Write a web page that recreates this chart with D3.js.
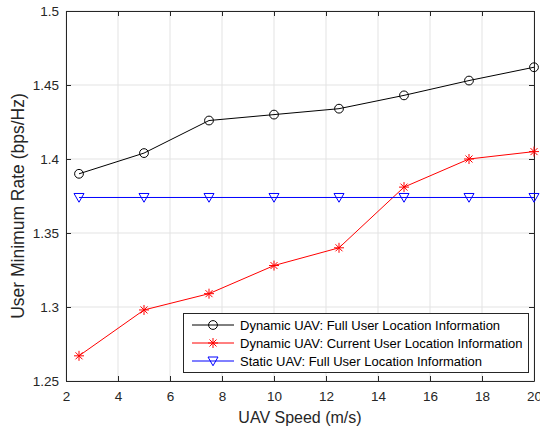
<!DOCTYPE html>
<html><head><meta charset="utf-8">
<script src="https://cdn.jsdelivr.net/npm/d3@7"></script>
<style>body{margin:0;background:#fff;}svg{display:block;font-family:"Liberation Sans",Arial,sans-serif;}</style>
</head><body>
<script>
const speeds = [2.5, 5, 7.5, 10, 12.5, 15, 17.5, 20];
const dynFull = [1.390, 1.404, 1.426, 1.430, 1.434, 1.443, 1.453, 1.462];
const dynCurrent = [1.267, 1.298, 1.309, 1.328, 1.340, 1.381, 1.400, 1.405];
const staticFull = [1.374, 1.374, 1.374, 1.374, 1.374, 1.374, 1.374, 1.374];
const seriesNames = ["Dynamic UAV: Full User Location Information", "Dynamic UAV: Current User Location Information", "Static UAV: Full User Location Information"];
const xTicks = [2, 4, 6, 8, 10, 12, 14, 16, 18, 20];
const yTicks = [1.25, 1.3, 1.35, 1.4, 1.45, 1.5];

const W = 540, H = 427;
const m = {l: 66, r: 6, t: 11, b: 46};
const svg = d3.select("body").append("svg").attr("width", W).attr("height", H);
const x = d3.scaleLinear().domain([2, 20]).range([m.l, W - m.r]);
const y = d3.scaleLinear().domain([1.25, 1.5]).range([H - m.b, m.t]);
const axisCol = "#262626";

// grid
svg.append("g").selectAll("line").data(xTicks).join("line")
  .attr("x1", d => x(d)).attr("x2", d => x(d)).attr("y1", y(1.25)).attr("y2", y(1.5))
  .attr("stroke", "#e3e3e3").attr("stroke-width", 1);
svg.append("g").selectAll("line").data(yTicks).join("line")
  .attr("y1", d => y(d)).attr("y2", d => y(d)).attr("x1", x(2)).attr("x2", x(20))
  .attr("stroke", "#e3e3e3").attr("stroke-width", 1);

// axes
const fmtY = d => String(+d.toFixed(2));
const ax = svg.append("g").attr("transform", `translate(0,${y(1.25)})`)
  .call(d3.axisBottom(x).tickValues(xTicks).tickSizeInner(-5).tickSizeOuter(0).tickPadding(10));
const ay = svg.append("g").attr("transform", `translate(${x(2)},0)`)
  .call(d3.axisLeft(y).tickValues(yTicks).tickFormat(fmtY).tickSizeInner(-5).tickSizeOuter(0).tickPadding(7));
const axTop = svg.append("g").attr("transform", `translate(0,${y(1.5)})`)
  .call(d3.axisTop(x).tickValues(xTicks).tickSizeInner(-5).tickSizeOuter(0).tickFormat(""));
const ayR = svg.append("g").attr("transform", `translate(${x(20)},0)`)
  .call(d3.axisRight(y).tickValues(yTicks).tickSizeInner(-5).tickSizeOuter(0).tickFormat(""));
[ax, ay, axTop, ayR].forEach(g => {
  g.selectAll("path.domain").attr("stroke", axisCol).attr("stroke-width", 1);
  g.selectAll(".tick line").attr("stroke", axisCol);
  g.selectAll("text").attr("fill", axisCol).style("font-size", "13.5px").style("font-family", '"Liberation Sans",Arial,sans-serif');
});

// labels
svg.append("text").attr("x", 300).attr("y", 423).attr("text-anchor", "middle")
  .attr("fill", axisCol).style("font-size", "16px").text("UAV Speed (m/s)");
svg.append("text").attr("transform", `translate(24,206) rotate(-90)`).attr("text-anchor", "middle")
  .attr("fill", axisCol).style("font-size", "17.5px").text("User Minimum Rate (bps/Hz)");

const line = d3.line().x(d => x(d[0])).y(d => y(d[1]));
const series = [
  {vals: dynFull, color: "#000000", marker: "circle"},
  {vals: dynCurrent, color: "#ff0000", marker: "star"},
  {vals: staticFull, color: "#0000ff", marker: "tri"}
];
function drawMarker(g, type, cx, cy, color) {
  if (type === "circle") {
    g.append("circle").attr("cx", cx).attr("cy", cy).attr("r", 4.4).attr("fill", "none").attr("stroke", color).attr("stroke-width", 1);
  } else if (type === "star") {
    const s = 5;
    const p = `M${cx - s},${cy}L${cx + s},${cy}M${cx},${cy - s}L${cx},${cy + s}M${cx - s * 0.7},${cy - s * 0.7}L${cx + s * 0.7},${cy + s * 0.7}M${cx - s * 0.7},${cy + s * 0.7}L${cx + s * 0.7},${cy - s * 0.7}`;
    g.append("path").attr("d", p).attr("stroke", color).attr("stroke-width", 1).attr("fill", "none");
  } else {
    const s = 5;
    g.append("path").attr("d", `M${cx - s},${cy - s * 0.8}L${cx + s},${cy - s * 0.8}L${cx},${cy + s * 0.95}Z`)
      .attr("fill", "none").attr("stroke", color).attr("stroke-width", 1);
  }
}
series.forEach(s => {
  const data = speeds.map((v, i) => [v, s.vals[i]]);
  svg.append("path").datum(data).attr("d", line).attr("fill", "none").attr("stroke", s.color).attr("stroke-width", 1);
  const g = svg.append("g");
  data.forEach(d => drawMarker(g, s.marker, x(d[0]), y(d[1]), s.color));
});

// legend
const lg = svg.append("g");
lg.append("rect").attr("x", 183.5).attr("y", 313.5).attr("width", 345).attr("height", 59)
  .attr("fill", "#fff").attr("stroke", axisCol).attr("stroke-width", 1);
series.forEach((s, i) => {
  const yy = 325 + i * 18;
  lg.append("line").attr("x1", 192).attr("x2", 234).attr("y1", yy).attr("y2", yy).attr("stroke", s.color).attr("stroke-width", 1);
  drawMarker(lg, s.marker, 213, yy, s.color);
  lg.append("text").attr("x", 240).attr("y", yy + 4.8).attr("fill", "#000").style("font-size", "13px").text(seriesNames[i]);
});
</script>
</body></html>
